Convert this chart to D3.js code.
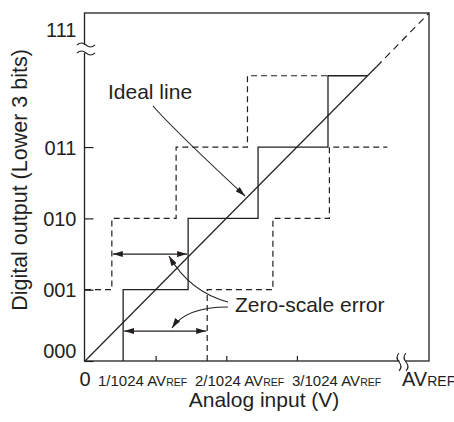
<!DOCTYPE html>
<html>
<head>
<meta charset="utf-8">
<script src="https://cdn.jsdelivr.net/npm/d3@7"></script>
<style>
  body { margin: 0; background: #fff; }
  svg { display: block; }
  text { font-family: "Liberation Sans", Arial, sans-serif; fill: #231f20; }
</style>
</head>
<body>
<div id="chart"></div>
<script>
// ---- data (x in LSB of 1/1024 AVREF, y in output code) ----
var codeTicks = [0, 1, 2, 3];
var codeLabels = ["000", "001", "010", "011"];
var topCodeLabel = "111";
var inputTicks = [1, 2, 3];
var inputLabels = ["1/1024", "2/1024", "3/1024"];

// staircases, drawn with a step-before curve
var actualX = [0.54, 1.46, 2.45, 3.44, 4.0];
var actualCode = [0, 1, 2, 3, 4];
var upperX = [0, 0.38, 1.29, 2.30, 3.44];
var upperCode = [1, 1, 2, 3, 4];
var lowerX = [1.73, 2.66, 3.46, 4.28];
var lowerCode = [0, 1, 2, 3];

// ideal line: solid part then dashed to full scale
var idealSolid = [[0, 0], [4.13, 4.13]];
var idealDashed = [[4.13, 4.13], [4.87, 4.88]];

// zero-scale error spans
var errFrom = [0.38, 0.54];
var errTo = [1.46, 1.73];
var errAt = [1.5, 0.42];

// ---- layout ----
var W = 454, H = 422;
var plotLeft = 84.5, plotRight = 429, plotTop = 13, plotBottom = 361;
var ink = "#231f20";

var svg = d3.select("#chart").append("svg")
    .attr("width", W)
    .attr("height", H);

var defs = svg.append("defs");
defs.append("marker")
    .attr("id", "ah")
    .attr("viewBox", "0 0 10 6")
    .attr("refX", 10)
    .attr("refY", 3)
    .attr("markerWidth", 10)
    .attr("markerHeight", 6)
    .attr("markerUnits", "userSpaceOnUse")
    .attr("orient", "auto-start-reverse")
  .append("path")
    .attr("d", "M0,0L10,3L0,6Z")
    .attr("fill", ink);

var x = d3.scaleLinear().domain([0, 4.87]).range([85, plotRight]);
var y = d3.scaleLinear().domain([0, 4.88]).range([plotBottom, plotTop]);

// frame
svg.append("rect")
    .attr("x", plotLeft)
    .attr("y", plotTop)
    .attr("width", plotRight - plotLeft)
    .attr("height", plotBottom - plotTop)
    .attr("fill", "none")
    .attr("stroke", ink)
    .attr("stroke-width", 1.3);

// y axis (ticks inward)
var yAxis = svg.append("g")
    .attr("transform", "translate(" + plotLeft + ",0)")
    .call(d3.axisLeft(y)
        .tickValues(codeTicks)
        .tickSizeInner(-9)
        .tickSizeOuter(0)
        .tickPadding(8)
        .tickFormat(function(d, i) { return codeLabels[i]; }));
yAxis.select(".domain").remove();
yAxis.selectAll("line").attr("stroke", ink).attr("stroke-width", 1.2);
yAxis.selectAll("text")
    .attr("font-size", "20px")
    .attr("font-family", "Liberation Sans, Arial, sans-serif")
    .attr("fill", ink)
    .attr("dy", function(d) { return d === 0 ? "-0.2em" : "0.35em"; });

svg.append("text")
    .attr("x", plotLeft - 8)
    .attr("y", 37)
    .attr("text-anchor", "end")
    .attr("font-size", "20px")
    .text(topCodeLabel);

// x axis (ticks inward)
var xAxis = svg.append("g")
    .attr("transform", "translate(0," + plotBottom + ")")
    .call(d3.axisBottom(x)
        .tickValues(inputTicks)
        .tickSizeInner(-5)
        .tickSizeOuter(0)
        .tickFormat(""));
xAxis.select(".domain").remove();
xAxis.selectAll("line").attr("stroke", ink).attr("stroke-width", 1.2);

// x tick labels laid out as a row
svg.append("text")
    .attr("x", x(0))
    .attr("y", 386)
    .attr("text-anchor", "middle")
    .attr("font-size", "20px")
    .text("0");

var cursor = x(0) + 13;
inputLabels.forEach(function(lab) {
    var t = svg.append("text")
        .attr("x", cursor)
        .attr("y", 386)
        .attr("font-size", "15px");
    t.append("tspan").text(lab + " AV");
    t.append("tspan").attr("font-size", "10.5px").text("REF");
    cursor += 97;
});

var fullScale = svg.append("text")
    .attr("x", 402)
    .attr("y", 386)
    .attr("font-size", "20px");
fullScale.append("tspan").text("AV");
fullScale.append("tspan").attr("font-size", "14px").text("REF");

// axis breaks
svg.append("rect")
    .attr("x", 80).attr("y", 45).attr("width", 10).attr("height", 8)
    .attr("fill", "#fff");
[45, 53].forEach(function(yy) {
    svg.append("path")
        .attr("d", "M77," + yy + " Q81.5," + (yy - 4) + " 86," + yy + " T95," + yy)
        .attr("fill", "none")
        .attr("stroke", ink)
        .attr("stroke-width", 1.1);
});
svg.append("rect")
    .attr("x", 399.5).attr("y", 357).attr("width", 6).attr("height", 8)
    .attr("fill", "#fff");
[399, 406].forEach(function(xx) {
    svg.append("path")
        .attr("d", "M" + xx + ",353 Q" + (xx - 4) + ",357.5 " + xx + ",362 T" + xx + ",371")
        .attr("fill", "none")
        .attr("stroke", ink)
        .attr("stroke-width", 1.1);
});

// staircases
var step = d3.line()
    .x(function(d) { return x(d[0]); })
    .y(function(d) { return y(d[1]); })
    .curve(d3.curveStepBefore);

function pairs(xs, cs) { return xs.map(function(v, i) { return [v, cs[i]]; }); }

svg.append("path")
    .attr("d", step(pairs(upperX, upperCode)))
    .attr("fill", "none").attr("stroke", ink).attr("stroke-width", 1.2)
    .attr("stroke-dasharray", "6,4");
svg.append("path")
    .attr("d", step(pairs(lowerX, lowerCode)))
    .attr("fill", "none").attr("stroke", ink).attr("stroke-width", 1.2)
    .attr("stroke-dasharray", "6,4");
svg.append("path")
    .attr("d", step(pairs(actualX, actualCode)))
    .attr("fill", "none").attr("stroke", ink).attr("stroke-width", 1.3);

// ideal line
var straight = d3.line()
    .x(function(d) { return x(d[0]); })
    .y(function(d) { return y(d[1]); });
svg.append("path")
    .attr("d", straight(idealSolid))
    .attr("fill", "none").attr("stroke", ink).attr("stroke-width", 1.2);
svg.append("path")
    .attr("d", straight(idealDashed))
    .attr("fill", "none").attr("stroke", ink).attr("stroke-width", 1.2)
    .attr("stroke-dasharray", "7,5");

// zero-scale error double arrows
errFrom.forEach(function(f, i) {
    svg.append("line")
        .attr("x1", x(f) + 1).attr("x2", x(errTo[i]) - 1)
        .attr("y1", y(errAt[i])).attr("y2", y(errAt[i]))
        .attr("stroke", ink).attr("stroke-width", 1.2)
        .attr("marker-start", "url(#ah)")
        .attr("marker-end", "url(#ah)");
});

// callouts
svg.append("text")
    .attr("x", 108).attr("y", 99)
    .attr("font-size", "21px")
    .text("Ideal line");
svg.append("path")
    .attr("d", "M153,106 Q172,128 245,196")
    .attr("fill", "none").attr("stroke", ink).attr("stroke-width", 1.1)
    .attr("marker-end", "url(#ah)");

svg.append("text")
    .attr("x", 235).attr("y", 312)
    .attr("font-size", "21px")
    .text("Zero-scale error");
svg.append("path")
    .attr("d", "M228,302 Q190,292 169,256")
    .attr("fill", "none").attr("stroke", ink).attr("stroke-width", 1.1)
    .attr("marker-end", "url(#ah)");
svg.append("path")
    .attr("d", "M228,307 Q186,307 172,328")
    .attr("fill", "none").attr("stroke", ink).attr("stroke-width", 1.1)
    .attr("marker-end", "url(#ah)");

// axis titles
svg.append("text")
    .attr("x", 264).attr("y", 407)
    .attr("text-anchor", "middle")
    .attr("font-size", "21px")
    .text("Analog input (V)");
svg.append("text")
    .attr("transform", "translate(27,180) rotate(-90)")
    .attr("text-anchor", "middle")
    .attr("font-size", "21.5px")
    .text("Digital output (Lower 3 bits)");
</script>
</body>
</html>
